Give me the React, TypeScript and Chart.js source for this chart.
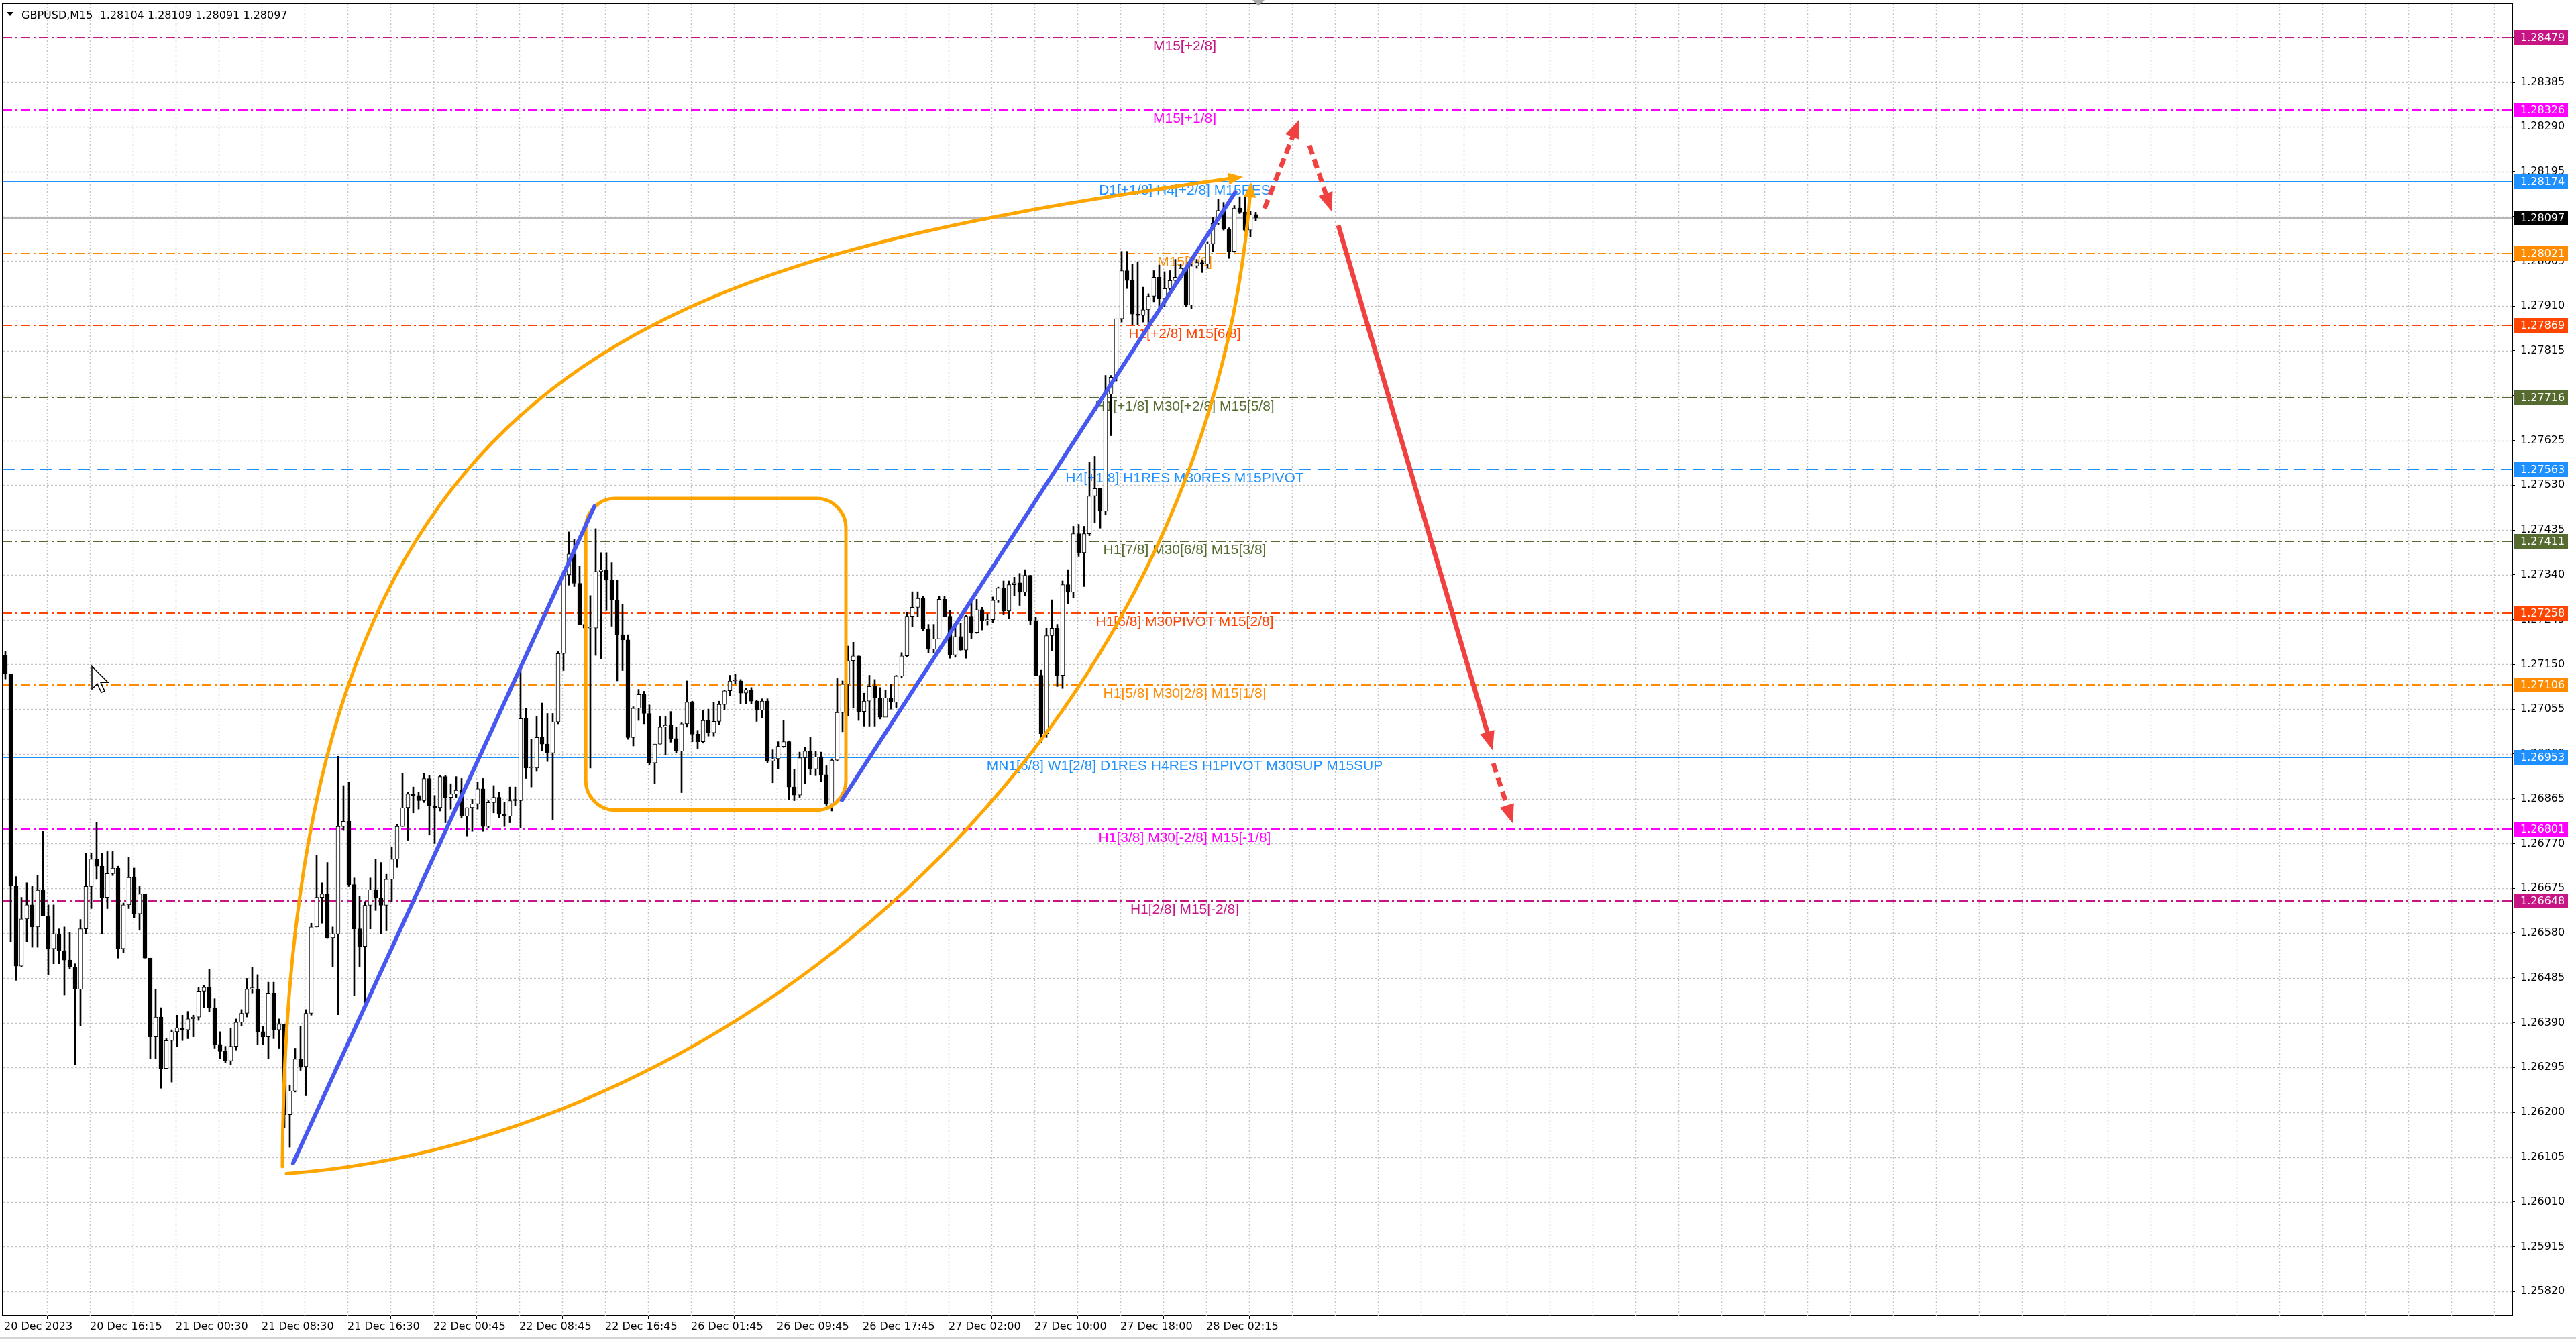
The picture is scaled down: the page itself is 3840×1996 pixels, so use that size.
import { useEffect, useRef } from "react";
import { Chart, registerables } from "chart.js";

Chart.register(...registerables);

// GBPUSD M15, one candle per two bars
const firstOpen = 1.2717;
const highs = [
  1.27177, 1.2713, 1.267, 1.26656, 1.26687, 1.26679, 1.26702, 1.26796, 1.2664, 1.2664,
  1.26589, 1.26593, 1.26582, 1.26515, 1.26609, 1.26749, 1.26749, 1.26815, 1.26749, 1.26753,
  1.26753, 1.26722, 1.26644, 1.26741, 1.26718, 1.26679, 1.26663, 1.26527, 1.26461, 1.26422,
  1.26356, 1.26375, 1.26406, 1.26406, 1.26414, 1.26406, 1.26465, 1.26469, 1.26504, 1.26441,
  1.26371, 1.2634, 1.26379, 1.26398, 1.26418, 1.26484, 1.26508, 1.26492, 1.26383, 1.26476,
  1.26476, 1.26398, 1.26387, 1.26258, 1.26336, 1.26383, 1.26418, 1.26601, 1.26745, 1.26687,
  1.2673, 1.26593, 1.26955, 1.26893, 1.26901, 1.26697, 1.26658, 1.26647, 1.26697, 1.26737,
  1.2673, 1.26705, 1.26763, 1.2681, 1.26919, 1.26879, 1.2689, 1.26879, 1.26919, 1.26915,
  1.26872, 1.26915, 1.26915, 1.26897, 1.26912, 1.26908, 1.26846, 1.26864, 1.26901, 1.26908,
  1.26861, 1.26893, 1.26879, 1.26857, 1.2689, 1.2689, 1.27137, 1.27057, 1.26992, 1.27039,
  1.27068, 1.27046, 1.27046, 1.27177, 1.27344, 1.27431, 1.27416, 1.27358, 1.27249, 1.27296,
  1.27438, 1.27387, 1.27387, 1.27366, 1.27329, 1.27278, 1.27213, 1.2706, 1.27097, 1.27093,
  1.27064, 1.26981, 1.27039, 1.27039, 1.2705, 1.27017, 1.27026, 1.27115, 1.27072, 1.2701,
  1.27053, 1.27055, 1.2707, 1.27072, 1.27096, 1.27127, 1.2713, 1.27118, 1.27099, 1.27101,
  1.27074, 1.27077, 1.27077, 1.26969, 1.26986, 1.27031, 1.26988, 1.26928, 1.26964, 1.26974,
  1.26995, 1.26966, 1.26964, 1.26935, 1.2695, 1.2712, 1.27115, 1.27189, 1.27197, 1.27168,
  1.27089, 1.27127, 1.27118, 1.27101, 1.27096, 1.27108, 1.27127, 1.27175, 1.27261, 1.27304,
  1.27304, 1.27295, 1.27235, 1.27235, 1.27295, 1.27295, 1.27264, 1.2723, 1.27237, 1.27254,
  1.27283, 1.27288, 1.27271, 1.27257, 1.27293, 1.27314, 1.27327, 1.27327, 1.27335, 1.27343,
  1.27351, 1.27339, 1.27251, 1.27139, 1.27227, 1.27287, 1.27235, 1.27327, 1.27351, 1.27443,
  1.27447, 1.27443, 1.27579, 1.27591, 1.27523, 1.27763, 1.27763, 1.27883, 1.28026, 1.28026,
  1.27999, 1.28004, 1.2795, 1.27936, 1.27985, 1.27997, 1.27983, 1.27985, 1.28009, 1.27999,
  1.27995, 1.27999, 1.28009, 1.28007, 1.28047, 1.28099, 1.28137, 1.2813, 1.28076, 1.28123,
  1.28142, 1.28146, 1.28111, 1.28109,
];
const lows = [
  1.27119, 1.26562, 1.2648, 1.26508, 1.26562, 1.2655, 1.2655, 1.26617, 1.26492, 1.26515,
  1.26515, 1.26449, 1.26504, 1.26301, 1.26383, 1.26578, 1.26632, 1.26694, 1.26578, 1.26632,
  1.26702, 1.26527, 1.26539, 1.26632, 1.26613, 1.26586, 1.26527, 1.26313, 1.26313, 1.26251,
  1.26293, 1.26264, 1.2634, 1.26352, 1.26356, 1.2636, 1.26395, 1.26422, 1.26414, 1.26336,
  1.26313, 1.26305, 1.26301, 1.26332, 1.26383, 1.26402, 1.26453, 1.26344, 1.26344, 1.26313,
  1.26356, 1.26336, 1.26167, 1.26126, 1.26243, 1.26289, 1.26235, 1.26406, 1.26593, 1.26601,
  1.2657, 1.26508, 1.26407, 1.26799, 1.26679, 1.26447, 1.26509, 1.26429, 1.26589, 1.26628,
  1.26578, 1.26585, 1.26647, 1.26719, 1.26806, 1.26777, 1.26835, 1.26843, 1.26857, 1.26788,
  1.2677, 1.26839, 1.26814, 1.26843, 1.26868, 1.26825, 1.26786, 1.26796, 1.26843, 1.26796,
  1.26803, 1.26835, 1.26825, 1.26806, 1.26814, 1.2685, 1.26803, 1.26908, 1.2689, 1.26923,
  1.26966, 1.26944, 1.26821, 1.27024, 1.27137, 1.27318, 1.27315, 1.27235, 1.27104, 1.2693,
  1.27169, 1.27162, 1.27264, 1.27231, 1.27115, 1.27137, 1.26991, 1.26977, 1.27031, 1.27024,
  1.26937, 1.26897, 1.26981, 1.26959, 1.26985, 1.26962, 1.26878, 1.27017, 1.26986, 1.26971,
  1.26983, 1.26998, 1.26998, 1.27022, 1.27053, 1.27084, 1.27108, 1.27067, 1.27067, 1.27067,
  1.27029, 1.27036, 1.26942, 1.26899, 1.26928, 1.26974, 1.26863, 1.26861, 1.26868, 1.26897,
  1.26916, 1.26914, 1.26902, 1.26851, 1.26839, 1.26945, 1.27007, 1.27041, 1.27058, 1.27031,
  1.27019, 1.27019, 1.27019, 1.27034, 1.27041, 1.27055, 1.27058, 1.27122, 1.27166, 1.2723,
  1.27251, 1.27221, 1.27175, 1.27175, 1.27216, 1.27252, 1.27163, 1.27165, 1.2718, 1.27163,
  1.27204, 1.27216, 1.27223, 1.27233, 1.27238, 1.27281, 1.27255, 1.27247, 1.27295, 1.27275,
  1.27295, 1.27235, 1.27127, 1.26983, 1.26995, 1.27179, 1.27103, 1.27099, 1.27278, 1.27291,
  1.27379, 1.27315, 1.27423, 1.27451, 1.27439, 1.27467, 1.27635, 1.27751, 1.27876, 1.27947,
  1.27871, 1.27871, 1.27876, 1.27862, 1.27919, 1.27909, 1.27909, 1.27938, 1.27957, 1.27966,
  1.27909, 1.27905, 1.2799, 1.27981, 1.2799, 1.28026, 1.28083, 1.28071, 1.28011, 1.28024,
  1.28106, 1.28068, 1.28056, 1.28091,
];
const closes = [
  1.2713, 1.2668, 1.2651, 1.2661, 1.2664, 1.26593, 1.26671, 1.26617, 1.26547, 1.26578,
  1.26543, 1.26523, 1.26508, 1.26461, 1.26589, 1.26679, 1.26737, 1.26722, 1.26656, 1.26706,
  1.26718, 1.26547, 1.2664, 1.26698, 1.26621, 1.26663, 1.26527, 1.2636, 1.26402, 1.26293,
  1.26352, 1.26371, 1.26379, 1.26375, 1.26398, 1.26402, 1.26457, 1.26465, 1.26422, 1.26344,
  1.26329, 1.26309, 1.2634, 1.26391, 1.2641, 1.26461, 1.26461, 1.26371, 1.2636, 1.26453,
  1.26375, 1.26387, 1.26195, 1.26245, 1.26313, 1.26297, 1.2641, 1.26593, 1.26656, 1.26663,
  1.2657, 1.26578, 1.26806, 1.26817, 1.26683, 1.26589, 1.26552, 1.26639, 1.26672, 1.26654,
  1.26639, 1.26694, 1.26737, 1.26806, 1.26846, 1.26875, 1.26872, 1.26861, 1.26908, 1.2685,
  1.26846, 1.26912, 1.26868, 1.26875, 1.26883, 1.26828, 1.26846, 1.26854, 1.26886, 1.26806,
  1.26857, 1.26868, 1.26832, 1.26828, 1.26861, 1.26861, 1.27035, 1.2693, 1.2693, 1.26995,
  1.26981, 1.26962, 1.27028, 1.27173, 1.2734, 1.27384, 1.27322, 1.27235, 1.27227, 1.27227,
  1.27347, 1.27351, 1.27329, 1.27286, 1.27213, 1.27202, 1.26995, 1.27057, 1.27086, 1.27046,
  1.26941, 1.26981, 1.27017, 1.27021, 1.26993, 1.26966, 1.27024, 1.2707, 1.27002, 1.26986,
  1.27031, 1.27005, 1.27029, 1.27065, 1.27094, 1.27115, 1.27115, 1.27089, 1.27096, 1.27072,
  1.27053, 1.27072, 1.26945, 1.2695, 1.26976, 1.26986, 1.2689, 1.26873, 1.26952, 1.26966,
  1.26928, 1.26954, 1.26916, 1.26854, 1.26947, 1.27048, 1.27108, 1.27158, 1.27168, 1.2705,
  1.27072, 1.27103, 1.27079, 1.27038, 1.27079, 1.2707, 1.27125, 1.27168, 1.27252, 1.27271,
  1.2729, 1.27225, 1.27182, 1.27204, 1.27288, 1.27252, 1.2717, 1.27209, 1.2718, 1.27252,
  1.27218, 1.27266, 1.27242, 1.27245, 1.27286, 1.27312, 1.27263, 1.27319, 1.27323, 1.27303,
  1.27339, 1.27243, 1.27127, 1.27003, 1.27211, 1.27227, 1.27127, 1.27319, 1.27303, 1.27427,
  1.27387, 1.27427, 1.27507, 1.27523, 1.27475, 1.27723, 1.27759, 1.27883, 1.27985, 1.27964,
  1.27893, 1.2789, 1.27902, 1.27931, 1.27971, 1.27926, 1.27947, 1.27964, 1.27971, 1.2799,
  1.27912, 1.27995, 1.28002, 1.27999, 1.28042, 1.28085, 1.28113, 1.28073, 1.28026, 1.28118,
  1.28109, 1.28071, 1.28104, 1.28097,
];

const timeLabels = [
  "20 Dec 2023", "20 Dec 16:15", "21 Dec 00:30", "21 Dec 08:30", "21 Dec 16:30",
  "22 Dec 00:45", "22 Dec 08:45", "22 Dec 16:45", "26 Dec 01:45", "26 Dec 09:45",
  "26 Dec 17:45", "27 Dec 02:00", "27 Dec 10:00", "27 Dec 18:00", "28 Dec 02:15",
];
const priceTicks = [
  1.2582, 1.25915, 1.2601, 1.26105, 1.262, 1.26295, 1.2639, 1.26485, 1.2658, 1.26675,
  1.2677, 1.26865, 1.2696, 1.27055, 1.2715, 1.27245, 1.2734, 1.27435, 1.2753, 1.27625,
  1.2772, 1.27815, 1.2791, 1.28005, 1.281, 1.28195, 1.2829, 1.28385, 1.2848,
];

// Murrey math levels
const levelPrices = [
  1.28479, 1.28326, 1.28174, 1.28021, 1.27869, 1.27716, 1.27563,
  1.27411, 1.27258, 1.27106, 1.26953, 1.26801, 1.26648,
];
const levelNames = [
  "M15[+2/8]",
  "M15[+1/8]",
  "D1[+1/8] H4[+2/8] M15RES",
  "M15[7/8]",
  "H1[+2/8] M15[6/8]",
  "H1[+1/8] M30[+2/8] M15[5/8]",
  "H4[+1/8] H1RES M30RES M15PIVOT",
  "H1[7/8] M30[6/8] M15[3/8]",
  "H1[6/8] M30PIVOT M15[2/8]",
  "H1[5/8] M30[2/8] M15[1/8]",
  "MN1[6/8] W1[2/8] D1RES H4RES H1PIVOT M30SUP M15SUP",
  "H1[3/8] M30[-2/8] M15[-1/8]",
  "H1[2/8] M15[-2/8]",
];
const levelColors = [
  "#c71585", "#ff00ff", "#1e90ff", "#ff8c00", "#ff4500", "#556b2f", "#1e90ff",
  "#556b2f", "#ff4500", "#ff8c00", "#1e90ff", "#ff00ff", "#c71585",
];
const levelStyles = [
  "dashdot", "dashdot", "solid", "dashdot", "dashdot", "dashdot", "dash",
  "dashdot", "dashdot", "dashdot", "solid", "dashdot", "dashdot",
];

// drawn objects, points are [bar, price]
const trendLines = [
  [[107.7, 1.26092], [220, 1.27485]],
  [[312.25, 1.26862], [458.9, 1.28152]],
];
const boxCorners = [[216.8, 1.27502], [313.75, 1.26841]];
const upperArc = [[103.75, 1.26085], [104.75, 1.27792], [236.75, 1.28004], [461.75, 1.28184]];
const lowerArc = [[105.25, 1.2607], [273.5, 1.2614], [448.5, 1.26994], [464.75, 1.28172]];
const forecastFrom = [[469.75, 1.28117], [486.5, 1.28251], [497.25, 1.28081], [555, 1.2694]];
const forecastTo = [[482.75, 1.28306], [494.75, 1.28111], [554.75, 1.26968], [562.25, 1.26813]];
const forecastDashed = [true, true, false, true];

const opens = closes.map((_, i) => (i === 0 ? firstOpen : closes[i - 1]));
const last = closes.length - 1;

const DASHES: Record<string, number[]> = {
  solid: [],
  dash: [18, 10],
  dashdot: [14, 5, 3, 5],
};
const RED = "#f04040";
const ORANGE = "#ffa500";

function arrowHead(ctx: CanvasRenderingContext2D, tip: number[], ang: number, len: number, wid: number, color: string) {
  const c = Math.cos(ang), s = Math.sin(ang);
  const bx = tip[0] - c * len, by = tip[1] - s * len;
  ctx.fillStyle = color;
  ctx.beginPath();
  ctx.moveTo(tip[0], tip[1]);
  ctx.lineTo(bx - s * wid / 2, by + c * wid / 2);
  ctx.lineTo(bx + s * wid / 2, by - c * wid / 2);
  ctx.closePath();
  ctx.fill();
}

const decor = {
  id: "decor",
  beforeDatasetsDraw(chart: any) {
    const { ctx, chartArea: a } = chart;
    const xs = chart.scales.x, ys = chart.scales.y;
    ctx.save();
    ctx.beginPath();
    ctx.rect(a.left, a.top, a.right - a.left, a.bottom - a.top);
    ctx.clip();

    // grid
    ctx.strokeStyle = "#c4c4c4";
    ctx.lineWidth = 1.5;
    ctx.setLineDash([3, 3]);
    priceTicks.forEach((v) => {
      const y = Math.round(ys.getPixelForValue(v)) + 0.5;
      ctx.beginPath();
      ctx.moveTo(a.left, y);
      ctx.lineTo(a.right, y);
      ctx.stroke();
    });
    ctx.setLineDash([2, 3]);
    for (let b = 16; b < xs.max; b += 16) {
      const x = Math.round(xs.getPixelForValue(b)) + 0.5;
      ctx.beginPath();
      ctx.moveTo(x, a.top);
      ctx.lineTo(x, a.bottom);
      ctx.stroke();
    }

    // current price line
    ctx.setLineDash([]);
    ctx.strokeStyle = "#b8b8b8";
    ctx.lineWidth = 2;
    const cy = Math.round(ys.getPixelForValue(closes[last]));
    ctx.beginPath();
    ctx.moveTo(a.left, cy);
    ctx.lineTo(a.right, cy);
    ctx.stroke();

    // levels
    levelPrices.forEach((p, i) => {
      const y = Math.round(ys.getPixelForValue(p));
      ctx.strokeStyle = levelColors[i];
      ctx.lineWidth = 2;
      ctx.setLineDash(DASHES[levelStyles[i]]);
      ctx.beginPath();
      ctx.moveTo(a.left, y);
      ctx.lineTo(a.right, y);
      ctx.stroke();
    });
    ctx.setLineDash([]);
    ctx.font = "21px 'Liberation Sans', Arial, sans-serif";
    ctx.textAlign = "center";
    ctx.textBaseline = "alphabetic";
    const lx = xs.getPixelForValue(440);
    levelPrices.forEach((p, i) => {
      ctx.fillStyle = levelColors[i];
      ctx.fillText(levelNames[i], lx, ys.getPixelForValue(p) + 19);
    });
    ctx.restore();
  },
  afterDatasetsDraw(chart: any) {
    const { ctx, chartArea: a } = chart;
    const xs = chart.scales.x, ys = chart.scales.y;
    const pt = (p: number[]) => [xs.getPixelForValue(p[0]), ys.getPixelForValue(p[1])];
    ctx.save();
    ctx.beginPath();
    ctx.rect(a.left, a.top, a.right - a.left, a.bottom - a.top);
    ctx.clip();

    // orange box
    const [r0, r1] = boxCorners.map(pt);
    ctx.strokeStyle = ORANGE;
    ctx.lineWidth = 5;
    ctx.beginPath();
    ctx.roundRect(r0[0], r0[1], r1[0] - r0[0], r1[1] - r0[1], 44);
    ctx.stroke();

    // orange arcs with arrow heads
    [upperArc, lowerArc].forEach((arc) => {
      const [p0, p1, p2, p3] = arc.map(pt);
      const ang = Math.atan2(p3[1] - p2[1], p3[0] - p2[0]);
      ctx.strokeStyle = ORANGE;
      ctx.lineWidth = 5;
      ctx.lineCap = "round";
      ctx.beginPath();
      ctx.moveTo(p0[0], p0[1]);
      ctx.bezierCurveTo(p1[0], p1[1], p2[0], p2[1], p3[0] - Math.cos(ang) * 14, p3[1] - Math.sin(ang) * 14);
      ctx.stroke();
      arrowHead(ctx, p3, ang, 22, 18, ORANGE);
    });

    // blue trend lines
    ctx.strokeStyle = "#4658f0";
    ctx.lineWidth = 6;
    ctx.lineCap = "round";
    trendLines.forEach(([s, e]) => {
      const [x0, y0] = pt(s), [x1, y1] = pt(e);
      ctx.beginPath();
      ctx.moveTo(x0, y0);
      ctx.lineTo(x1, y1);
      ctx.stroke();
    });

    // red forecast arrows
    forecastFrom.forEach((f, i) => {
      const s = pt(f), e = pt(forecastTo[i]);
      const ang = Math.atan2(e[1] - s[1], e[0] - s[0]);
      ctx.strokeStyle = RED;
      ctx.lineWidth = 7;
      ctx.lineCap = "butt";
      ctx.setLineDash(forecastDashed[i] ? [14, 8] : []);
      ctx.beginPath();
      ctx.moveTo(s[0], s[1]);
      ctx.lineTo(e[0] - Math.cos(ang) * 20, e[1] - Math.sin(ang) * 20);
      ctx.stroke();
      ctx.setLineDash([]);
      arrowHead(ctx, e, ang, 28, 22, RED);
    });

    // mouse cursor
    const [mx, my] = pt([32.75, 1.27146]);
    const cur = [[0, 0], [0, 17], [4, 13], [7, 19.5], [9.5, 18.5], [6.5, 12], [12, 12]];
    ctx.beginPath();
    cur.forEach(([u, v], k) => (k ? ctx.lineTo(mx + u * 2, my + v * 2) : ctx.moveTo(mx + u * 2, my + v * 2)));
    ctx.closePath();
    ctx.fillStyle = "#fff";
    ctx.fill();
    ctx.strokeStyle = "#000";
    ctx.lineWidth = 1.5;
    ctx.stroke();
    ctx.restore();
  },
  afterDraw(chart: any) {
    const { ctx, chartArea: a } = chart;
    const xs = chart.scales.x, ys = chart.scales.y;
    ctx.save();

    // frame left / top
    ctx.strokeStyle = "#000";
    ctx.lineWidth = 2;
    ctx.beginPath();
    ctx.moveTo(a.left, a.bottom);
    ctx.lineTo(a.left, a.top);
    ctx.lineTo(a.right, a.top);
    ctx.stroke();

    // price boxes on the axis
    ctx.font = "16px 'DejaVu Sans', sans-serif";
    ctx.textAlign = "left";
    ctx.textBaseline = "middle";
    const boxes: [number, string][] = levelPrices.map((p, i) => [p, levelColors[i]] as [number, string]);
    boxes.push([closes[last], "#000"]);
    boxes.forEach(([p, c]) => {
      const y = Math.round(ys.getPixelForValue(p));
      ctx.fillStyle = c;
      ctx.fillRect(a.right + 3, y - 11, 80, 22);
      ctx.fillStyle = "#fff";
      ctx.fillText(p.toFixed(5), a.right + 12, y + 1);
    });

    // title
    ctx.fillStyle = "#000";
    ctx.textBaseline = "alphabetic";
    ctx.fillText(
      `GBPUSD,M15  ${opens[last].toFixed(5)} ${highs[last].toFixed(5)} ${lows[last].toFixed(5)} ${closes[last].toFixed(5)}`,
      a.left + 28, a.top + 23
    );
    ctx.beginPath();
    ctx.moveTo(a.left + 6, a.top + 13);
    ctx.lineTo(a.left + 16, a.top + 13);
    ctx.lineTo(a.left + 11, a.top + 19);
    ctx.closePath();
    ctx.fill();

    // chart shift marker
    const sx = xs.getPixelForValue(2 * last + 1.5);
    ctx.fillStyle = "#a8a8a8";
    ctx.beginPath();
    ctx.moveTo(sx - 9, 0);
    ctx.lineTo(sx + 9, 0);
    ctx.lineTo(sx, 9);
    ctx.closePath();
    ctx.fill();

    // window edge
    ctx.strokeStyle = "#d4d4d4";
    ctx.lineWidth = 3;
    ctx.beginPath();
    ctx.moveTo(0, chart.height - 1.5);
    ctx.lineTo(chart.width, chart.height - 1.5);
    ctx.stroke();
    ctx.restore();
  },
};

export default function App() {
  const canvasRef = useRef<HTMLCanvasElement>(null);
  const chartRef = useRef<Chart | null>(null);

  useEffect(() => {
    if (!canvasRef.current) return;
    if (chartRef.current) chartRef.current.destroy();
    const ctx = canvasRef.current.getContext("2d");
    if (!ctx) return;

    chartRef.current = new Chart(ctx, {
      type: "bar",
      data: {
        datasets: [
          {
            label: "body",
            data: closes.map((c, i) => ({ x: 2 * i + 0.5, y: [opens[i], c] })) as any,
            backgroundColor: closes.map((c, i) => (c >= opens[i] ? "#ffffff" : "#000000")),
            borderColor: "#000000",
            borderWidth: 1,
            borderSkipped: false,
            barThickness: 6,
            minBarLength: 2,
            grouped: false,
            order: 1,
          },
          {
            label: "wick",
            data: highs.map((h, i) => ({ x: 2 * i + 0.5, y: [lows[i], h] })) as any,
            backgroundColor: "#000000",
            borderWidth: 0,
            barThickness: 2,
            grouped: false,
            order: 2,
          },
        ],
      },
      options: {
        responsive: true,
        maintainAspectRatio: false,
        animation: false,
        events: [],
        layout: { padding: { left: 4, top: 5, right: 0, bottom: 0 } },
        plugins: { legend: { display: false }, tooltip: { enabled: false } },
        scales: {
          x: {
            type: "linear",
            offset: false,
            min: -0.5,
            max: 934.75,
            afterFit: (s: any) => { s.height = 35; s.paddingLeft = 0; s.paddingRight = 0; },
            afterBuildTicks: (s: any) => { s.ticks = timeLabels.map((_, i) => ({ value: i * 32 })); },
            grid: { drawOnChartArea: false, drawTicks: true, tickLength: 5, tickColor: "#000" },
            border: { display: true, color: "#000", width: 2 },
            ticks: {
              autoSkip: false,
              maxRotation: 0,
              align: "start",
              padding: 2,
              color: "#000",
              font: { family: "'DejaVu Sans', sans-serif", size: 16 },
              callback: (_v: any, i: number) => timeLabels[i],
            },
          },
          y: {
            position: "right",
            min: 1.25769,
            max: 1.28552,
            afterFit: (s: any) => { s.width = 95; s.paddingTop = 0; s.paddingBottom = 0; },
            afterBuildTicks: (s: any) => { s.ticks = priceTicks.map((v) => ({ value: v })); },
            grid: { drawOnChartArea: false, drawTicks: true, tickLength: 4, tickColor: "#000" },
            border: { display: true, color: "#000", width: 2 },
            ticks: {
              padding: 8,
              color: "#000",
              font: { family: "'DejaVu Sans', sans-serif", size: 16 },
              callback: (v: any) => Number(v).toFixed(5),
            },
          },
        },
      },
      plugins: [decor],
    });

    return () => {
      if (chartRef.current) {
        chartRef.current.destroy();
        chartRef.current = null;
      }
    };
  }, []);

  return (
    <div style={{ position: "fixed", left: 0, top: 0, width: "100vw", height: "100vh", background: "#fff" }}>
      <canvas ref={canvasRef}></canvas>
    </div>
  );
}
